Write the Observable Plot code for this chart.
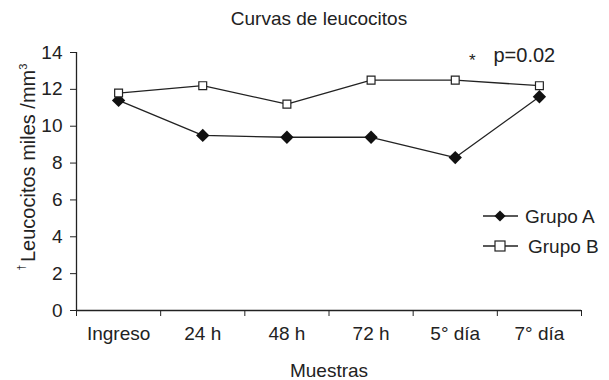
<!DOCTYPE html>
<html><head><meta charset="utf-8">
<script src="https://cdn.jsdelivr.net/npm/d3@7"></script>
<script src="https://cdn.jsdelivr.net/npm/@observablehq/plot@0.6"></script>
<style>body{margin:0;background:#fff} svg{font-family:"Liberation Sans",Arial,sans-serif}</style>
</head><body><div id="chart"></div>
<script>
const categories = ["Ingreso", "24 h", "48 h", "72 h", "5° día", "7° día"];
const grupoA = [11.4, 9.5, 9.4, 9.4, 8.3, 11.6];
const grupoB = [11.8, 12.2, 11.2, 12.5, 12.5, 12.2];
const yTicks = [0, 2, 4, 6, 8, 10, 12, 14];
const groups = ["Grupo A", "Grupo B"];

const rowsA = categories.map((c, i) => ({pos: i + 0.5, value: grupoA[i], group: groups[0]}));
const rowsB = categories.map((c, i) => ({pos: i + 0.5, value: grupoB[i], group: groups[1]}));
const ink = "#222";
const fs = 19;

const chart = Plot.plot({
  width: 609, height: 380,
  marginLeft: 76, marginRight: 28, marginTop: 52, marginBottom: 70,
  style: {fontFamily: "Liberation Sans, Arial, sans-serif", color: ink, background: "white"},
  x: {domain: [0, categories.length]},
  y: {domain: [0, 14]},
  marks: [
    Plot.ruleX([0], {stroke: ink, strokeWidth: 1.3}),
    Plot.ruleY([0], {stroke: ink, strokeWidth: 1.3}),
    Plot.axisY({ticks: yTicks, tickSize: 6, tickPadding: 8, fontSize: fs, label: null, stroke: ink}),
    Plot.axisX({ticks: d3.range(categories.length + 1), tickFormat: () => "", tickSize: 6, label: null, stroke: ink}),
    Plot.axisX({ticks: categories.map((c, i) => i + 0.5), tickFormat: d => categories[Math.round(d - 0.5)], tickSize: 0, tickPadding: 16, fontSize: fs, label: null}),
    Plot.text(["Muestras"], {frameAnchor: "bottom", lineAnchor: "middle", dy: 60, fontSize: fs, fill: ink}),
    Plot.text(["Curvas de leucocitos"], {frameAnchor: "top", lineAnchor: "middle", dx: -10, dy: -34, fontSize: 19, fill: ink}),
    Plot.text(["*"], {frameAnchor: "top-right", lineAnchor: "middle", dx: -106, dy: 8, fontSize: 17, fill: ink}),
    Plot.text(["p=0.02"], {frameAnchor: "top-right", lineAnchor: "middle", dx: -88, dy: 3, textAnchor: "start", fontSize: 20, fill: ink}),
    Plot.line(rowsA, {x: "pos", y: "value", stroke: ink, strokeWidth: 1.3}),
    Plot.line(rowsB, {x: "pos", y: "value", stroke: ink, strokeWidth: 1.3}),
    Plot.dot(rowsA, {x: "pos", y: "value", symbol: "diamond2", fill: "#111", r: 6}),
    Plot.dot(rowsB, {x: "pos", y: "value", symbol: "square2", fill: "white", stroke: ink, strokeWidth: 1.2, r: 5})
  ]
});

// Legend and y label
const svg = d3.select(chart);
const leg = svg.append("g").attr("font-size", fs).attr("fill", ink).attr("text-anchor", "start");
[[groups[0], 216, "diamond", 525], [groups[1], 246, "square", 528]].forEach(([name, y, kind, tx]) => {
  leg.append("line").attr("x1", 483).attr("x2", 518).attr("y1", y).attr("y2", y).attr("stroke", ink).attr("stroke-width", 1.3);
  if (kind === "diamond") {
    leg.append("path").attr("d", d3.symbol(d3.symbolDiamond2, 80)()).attr("transform", `translate(500,${y})`).attr("fill", "#111");
  } else {
    leg.append("rect").attr("x", 495).attr("y", y - 5).attr("width", 10).attr("height", 10).attr("fill", "white").attr("stroke", ink).attr("stroke-width", 1.2);
  }
  leg.append("text").attr("x", tx).attr("y", y).attr("dy", "0.35em").text(name);
});

const yl = svg.append("text").attr("transform", "translate(30,167) rotate(-90)").attr("text-anchor", "middle").attr("font-size", 20).attr("fill", ink);
yl.append("tspan").attr("font-size", 10).attr("dy", "-0.5em").text("† ");
yl.append("tspan").attr("dy", "0.5em").text("Leucocitos miles /mm");
yl.append("tspan").attr("font-size", 11).attr("dy", "-0.75em").text("3");

document.getElementById("chart").appendChild(chart);
</script></body></html>
